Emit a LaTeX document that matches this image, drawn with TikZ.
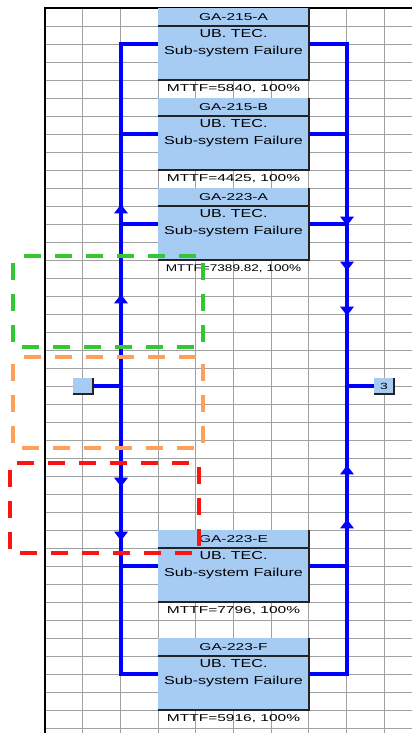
\documentclass[tikz,border=0pt]{standalone}
\usepackage{fontspec}
\setmainfont{Liberation Sans}
\newfontfamily\tagfont[FakeStretch=1.55]{Liberation Sans}
\newfontfamily\failfont[FakeStretch=1.4]{Liberation Sans}
\usepackage{xcolor}
\usetikzlibrary{shapes.geometric, positioning}
\definecolor{cellblue}{RGB}{166,204,244}
\definecolor{shadecol}{RGB}{35,35,35}
\definecolor{sheetgrid}{RGB}{160,160,160}
\definecolor{zonegreen}{RGB}{50,200,50}
\definecolor{zoneorange}{RGB}{255,160,90}
\definecolor{zonered}{RGB}{250,20,20}
\tikzstyle{tag} = [rectangle, fill=cellblue, minimum width=151pt, minimum height=18pt, inner sep=0pt, outer sep=0pt, font=\tagfont\fontsize{10}{10}\selectfont]
\tikzstyle{fail} = [rectangle, fill=cellblue, minimum width=151pt, minimum height=54pt, inner sep=0pt, outer sep=0pt]
\tikzstyle{failtext} = [inner sep=0pt, align=center, font=\failfont\fontsize{11.5}{17}\selectfont]
\tikzstyle{mttf} = [rectangle, minimum width=151pt, minimum height=18pt, inner sep=0pt, outer sep=0pt, font=\tagfont\fontsize{10}{10}\selectfont]
\tikzstyle{port} = [rectangle, fill=cellblue, minimum width=20pt, minimum height=16pt, inner sep=0pt, outer sep=0pt, font=\tagfont\fontsize{9}{10}\selectfont]
\tikzstyle{shade} = [draw=shadecol, line width=1.3pt]
\tikzstyle{bus} = [draw=blue, line width=3.2pt]
\tikzstyle{tip} = [isosceles triangle, isosceles triangle stretches, fill=blue, sloped, allow upside down, anchor=lower side, minimum width=14pt, minimum height=9pt, inner sep=0pt]
\tikzstyle{zone} = [line width=3.2pt, dash pattern=on 17pt off 14pt, dash phase=24pt]

\begin{document}
\begin{tikzpicture}[x=1pt, y=-1pt]
\useasboundingbox (0,0) rectangle (412,733);

% Sheet grid
\foreach \i in {1,...,9}
  \draw[sheetgrid] ({45+37.67*\i},8) -- ({45+37.67*\i},733);
\foreach \j in {1,...,40}
  \draw[sheetgrid] (45,{8+18*\j}) -- (412,{8+18*\j});
\draw[black, line width=2.2pt] (45,733) -- (45,8) -- (412,8);

% Failure blocks
\node[tag] (ta) at (233.5,17) {GA-215-A};
\node[fail, below=0pt of ta] (a) {};
\node[failtext, below=3pt of a.north] (ax) {UB. TEC.\\Sub-system Failure};
\node[mttf, below=0pt of a] (ma) {MTTF=5840, 100\%};

\node[tag, below=0pt of ma] (tb) {GA-215-B};
\node[fail, below=0pt of tb] (b) {};
\node[failtext, below=3pt of b.north] (bx) {UB. TEC.\\Sub-system Failure};
\node[mttf, below=0pt of b] (mb) {MTTF=4425, 100\%};

\node[tag, below=0pt of mb] (tc) {GA-223-A};
\node[fail, below=0pt of tc] (c) {};
\node[failtext, below=3pt of c.north] (cx) {UB. TEC.\\Sub-system Failure};
\node[mttf, below=0pt of c, font=\failfont\fontsize{9.7}{10}\selectfont] (mc) {MTTF=7389.82, 100\%};

\node[tag] (te) at (233.5,539) {GA-223-E};
\node[fail, below=0pt of te] (e) {};
\node[failtext, below=3pt of e.north] (ex) {UB. TEC.\\Sub-system Failure};
\node[mttf, below=0pt of e] (me) {MTTF=7796, 100\%};

\node[tag, below=18pt of me] (tf) {GA-223-F};
\node[fail, below=0pt of tf] (f) {};
\node[failtext, below=3pt of f.north] (fx) {UB. TEC.\\Sub-system Failure};
\node[mttf, below=0pt of f] (mf) {MTTF=5916, 100\%};

% Cell borders
\foreach \t/\u in {ta/a, tb/b, tc/c, te/e, tf/f} {
  \draw[shade] (\t.south west) -- (\t.south east);
  \draw[shade] (\t.north east) -- (\u.south east) -- (\u.south west);
}

% Ports
\node[port] (src) at (83,386) {};
\node[port] (out) at (384,386) {3};
\draw[shade] (src.north east) -- (src.south east) -- (src.south west);
\draw[shade] (out.north east) -- (out.south east) -- (out.south west);
\coordinate (lj) at (121,386);
\coordinate (rj) at (347,386);

% Flow in
\draw[bus] (src) -- (lj);
\draw[bus] (lj) |- node[tip, pos=.25] {} ([yshift=9pt]a.west);
\draw[bus] (lj) |- ([yshift=9pt]b.west);
\draw[bus] (lj) |- node[tip, pos=.25] {} ([yshift=9pt]c.west);
\draw[bus] (lj) |- node[tip, pos=.25] {} ([yshift=9pt]e.west);
\draw[bus] (lj) |- node[tip, pos=.25] {} ([yshift=9pt]f.west);

% Flow out
\draw[bus] ([yshift=9pt]a.east) -| node[tip, pos=.75] {} (rj);
\draw[bus] ([yshift=9pt]b.east) -| node[tip, pos=.75] {} (rj);
\draw[bus] ([yshift=9pt]c.east) -| node[tip, pos=.75] {} (rj);
\draw[bus] ([yshift=9pt]e.east) -| node[tip, pos=.75] {} (rj);
\draw[bus] ([yshift=9pt]f.east) -| node[tip, pos=.75] {} (rj);
\draw[bus] (rj) -- (out);

% Highlight zones
\draw[zone, draw=zonegreen] (13,256) rectangle (203,347);
\draw[zone, draw=zoneorange] (13,357) rectangle (203,448);
\draw[zone, draw=zonered] (10,463) rectangle (199,553);

\end{tikzpicture}
\end{document}
